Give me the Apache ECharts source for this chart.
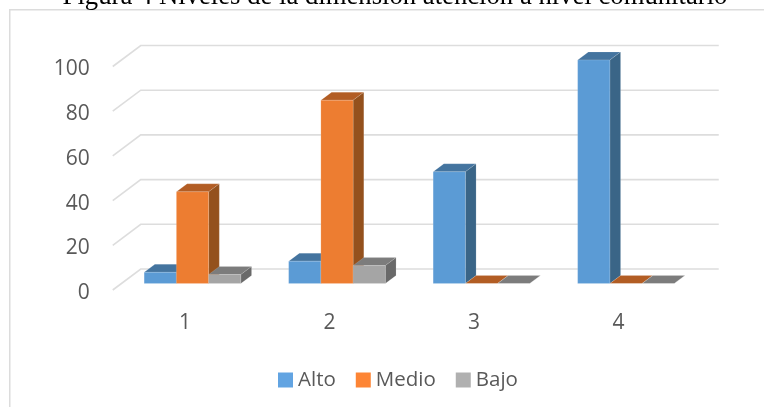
<!DOCTYPE html>
<html>
<head>
<meta charset="utf-8">
<style>html,body{margin:0;padding:0;background:#fff}#chart{width:764px;height:407px}</style>
<script src="https://cdn.jsdelivr.net/npm/echarts@6/dist/echarts.min.js"></script>
</head>
<body>
<div id="chart"></div>
<script>
const titleText = 'Figura 4 Niveles de la dimensión atención a nivel comunitario';
const categories = ['1', '2', '3', '4'];
const alto = [5, 10, 50, 100];
const medio = [41, 82, 0, 0];
const bajo = [4, 8, 0, 0];
const yTicks = [0, 20, 40, 60, 80, 100];

// fake 3d: the grid is the front plane, everything else is shifted back from it
const wallDx = 28, wallDy = -21;
const barDx = 7.5, barDy = -6.5;
const depthDx = 10.7, depthDy = -8;
const barShare = 0.223;

const chart = echarts.init(document.getElementById('chart'));

function renderWall(params, api) {
  const p = api.coord([categories[0], api.value(0)]);
  const x0 = params.coordSys.x;
  const x1 = x0 + params.coordSys.width;
  return {
    type: 'polyline',
    shape: { points: [[x0, p[1]], [x0 + wallDx, p[1] + wallDy], [x1 + wallDx, p[1] + wallDy]] },
    style: { fill: null, stroke: '#dddddd', lineWidth: 1.6 }
  };
}

function bar3d(slot, front, top, side) {
  return function (params, api) {
    const top0 = api.coord([api.value(0), api.value(1)]);
    const base = api.coord([api.value(0), 0]);
    const w = api.size([1, 0])[0] * barShare;
    const l = top0[0] + barDx + (slot - 1.5) * w;
    const r = l + w;
    const yt = top0[1] + barDy;
    const yb = base[1] + barDy;
    const edge = 'rgba(255,255,255,0.22)';
    return {
      type: 'group',
      children: [
        { type: 'polygon', shape: { points: [[l, yt], [r, yt], [r + depthDx, yt + depthDy], [l + depthDx, yt + depthDy]] },
          style: { fill: top, stroke: edge, lineWidth: 0.6 } },
        { type: 'polygon', shape: { points: [[r, yt], [r + depthDx, yt + depthDy], [r + depthDx, yb + depthDy], [r, yb]] },
          style: { fill: side, stroke: edge, lineWidth: 0.6 } },
        { type: 'rect', shape: { x: l, y: yt, width: w, height: yb - yt },
          style: { fill: front, stroke: edge, lineWidth: 0.6 } }
      ]
    };
  };
}

function barSeries(name, values, slot, front, top, side) {
  return {
    name: name,
    type: 'custom',
    renderItem: bar3d(slot, front, top, side),
    encode: { x: 0, y: 1 },
    itemStyle: { color: front },
    data: categories.map((c, i) => [c, values[i]])
  };
}

chart.setOption({
  animation: false,
  backgroundColor: '#fff',
  title: {
    text: titleText,
    left: 390,
    top: -22,
    textAlign: 'center',
    textStyle: { fontFamily: 'Liberation Serif', fontSize: 26.7, fontWeight: 'normal', color: '#000' }
  },
  legend: {
    left: 273,
    top: 364.5,
    itemWidth: 15,
    itemHeight: 15,
    itemGap: 20,
    icon: 'rect',
    textStyle: { fontFamily: 'Open Sans', fontSize: 20.5, color: '#595959' },
    data: [
      { name: 'Alto', itemStyle: { color: '#62a4e2' } },
      { name: 'Medio', itemStyle: { color: '#fd8535' } },
      { name: 'Bajo', itemStyle: { color: '#b0b0b0' } }
    ]
  },
  grid: { left: 112.75, width: 578, top: 66.5, height: 223.5, containLabel: false },
  xAxis: {
    type: 'category',
    data: categories,
    axisLine: { show: false },
    axisTick: { show: false },
    axisLabel: { margin: 23, fontFamily: 'Open Sans', fontSize: 21, color: '#595959' }
  },
  yAxis: {
    type: 'value',
    min: 0,
    max: 100,
    interval: 20,
    axisLine: { show: false },
    axisTick: { show: false },
    splitLine: { show: false },
    axisLabel: { margin: 23, fontFamily: 'Open Sans', fontSize: 21, color: '#595959', verticalAlign: 'top', lineHeight: 6 }
  },
  graphic: [{
    type: 'polyline',
    silent: true,
    shape: { points: [[9.75, 407], [9.75, 9.75], [764, 9.75]] },
    style: { fill: null, stroke: '#dcdcdc', lineWidth: 1.5 }
  }],
  series: [
    {
      type: 'custom',
      renderItem: renderWall,
      encode: { y: 0 },
      silent: true,
      data: yTicks.map(t => [t])
    },
    barSeries('Alto', alto, 0, '#5b9bd5', '#44749f', '#3a6587'),
    barSeries('Medio', medio, 1, '#ed7d31', '#b25d24', '#94511d'),
    barSeries('Bajo', bajo, 2, '#a5a5a5', '#7c7c7c', '#696969')
  ]
});
</script>
</body>
</html>
